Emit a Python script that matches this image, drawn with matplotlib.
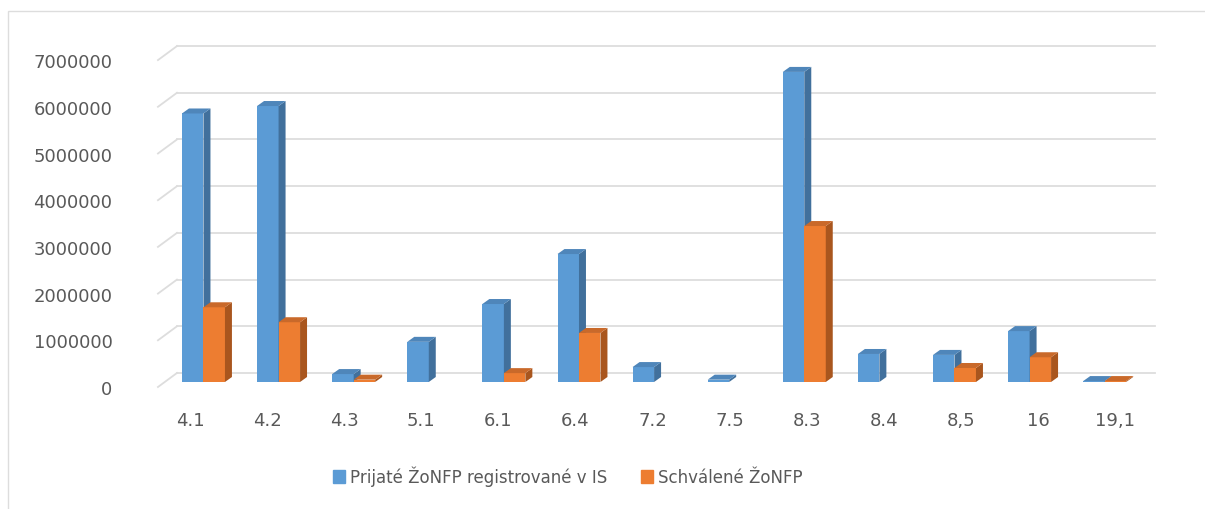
import matplotlib.pyplot as plt
from matplotlib.patches import Polygon, Patch, Rectangle

# ====== Data ======
categories = ["4.1", "4.2", "4.3", "5.1", "6.1", "6.4", "7.2", "7.5", "8.3", "8.4", "8,5", "16", "19,1"]
prijate = [5750000, 5910000, 170000, 860000, 1670000, 2740000, 320000, 50000,
           6640000, 600000, 580000, 1090000, 20000]
schvalene = [1600000, 1280000, 50000, 0, 190000, 1050000, 0, 0,
             3340000, 0, 300000, 530000, 20000]
y_ticks = [0, 1000000, 2000000, 3000000, 4000000, 5000000, 6000000, 7000000]
series_names = ["Prijaté ŽoNFP registrované v IS", "Schválené ŽoNFP"]

# ====== Style ======
BLUE = ("#5B9BD5", "#41709C", "#4F86BA")     # front, side, top
ORANGE = ("#ED7D31", "#A9561E", "#C9692A")
GRID = "#DDDDDD"
TEXT = "#595959"

# pseudo 3D geometry (x in category units, y in data units)
BAR_W = 0.286
DX, DY = 0.093, 107000          # bar depth
BASE = 107000                   # bar floor above the front plane
WDX0, WDX1, WDY = -0.606, -0.353, 300000   # side wall / back wall offset
XRIGHT = 12.67

fig = plt.figure(figsize=(12.05, 5.1), dpi=100)
ax = fig.add_axes([150 / 1205, 110 / 510, 1015 / 1205, 370 / 510])
ax.set_xlim(-0.712, 12.803)
ax.set_ylim(-257000, 7666000)
for s in ax.spines.values():
    s.set_visible(False)

# gridlines: back wall + little diagonal on the side wall
for v in y_ticks:
    ax.plot([WDX1, XRIGHT], [v + WDY, v + WDY], color=GRID, lw=1.3, zorder=1)
    ax.plot([WDX0, WDX1], [v, v + WDY], color=GRID, lw=1.3, zorder=1)


def bar3d(x0, val, cols):
    if val <= 0:
        return
    b, t = BASE, BASE + val
    ax.bar(x0, val, BAR_W, bottom=b, align="edge", color=cols[0], lw=0, zorder=3)
    side = [(x0 + BAR_W, b), (x0 + BAR_W + DX, b + DY), (x0 + BAR_W + DX, t + DY), (x0 + BAR_W, t)]
    top = [(x0, t), (x0 + DX, t + DY), (x0 + BAR_W + DX, t + DY), (x0 + BAR_W, t)]
    ax.add_patch(Polygon(side, closed=True, fc=cols[1], lw=0, zorder=3))
    ax.add_patch(Polygon(top, closed=True, fc=cols[2], lw=0, zorder=3))


for i in range(len(categories)):
    bar3d(i - BAR_W, prijate[i], BLUE)
for i in range(len(categories)):
    bar3d(i, schvalene[i], ORANGE)

# ticks (front plane is slightly wider than the bar plane)
xt = [-0.18 + 1.0266 * i for i in range(len(categories))]
ax.set_xticks(xt)
ax.set_xticklabels(categories)
ax.set_yticks(y_ticks)
ax.set_yticklabels([str(v) for v in y_ticks])
ax.tick_params(axis="both", length=0, labelsize=13, labelcolor=TEXT)
ax.tick_params(axis="y", pad=27)
ax.tick_params(axis="x", pad=9)

# legend
handles = [Patch(color=BLUE[0]), Patch(color=ORANGE[0])]
fig.legend(handles, series_names, loc="center", bbox_to_anchor=(568 / 1205, 1 - 477 / 510),
           ncol=2, frameon=False, fontsize=12, labelcolor=TEXT,
           handlelength=0.75, handleheight=0.75, handletextpad=0.3, columnspacing=2.0)

# chart area border
fig.patches.append(Rectangle((8 / 1205, -0.1), 1.2, 1 - 12 / 510 + 0.1, transform=fig.transFigure,
                             fill=False, ec=GRID, lw=1))

fig.savefig("out.png", dpi=100)
